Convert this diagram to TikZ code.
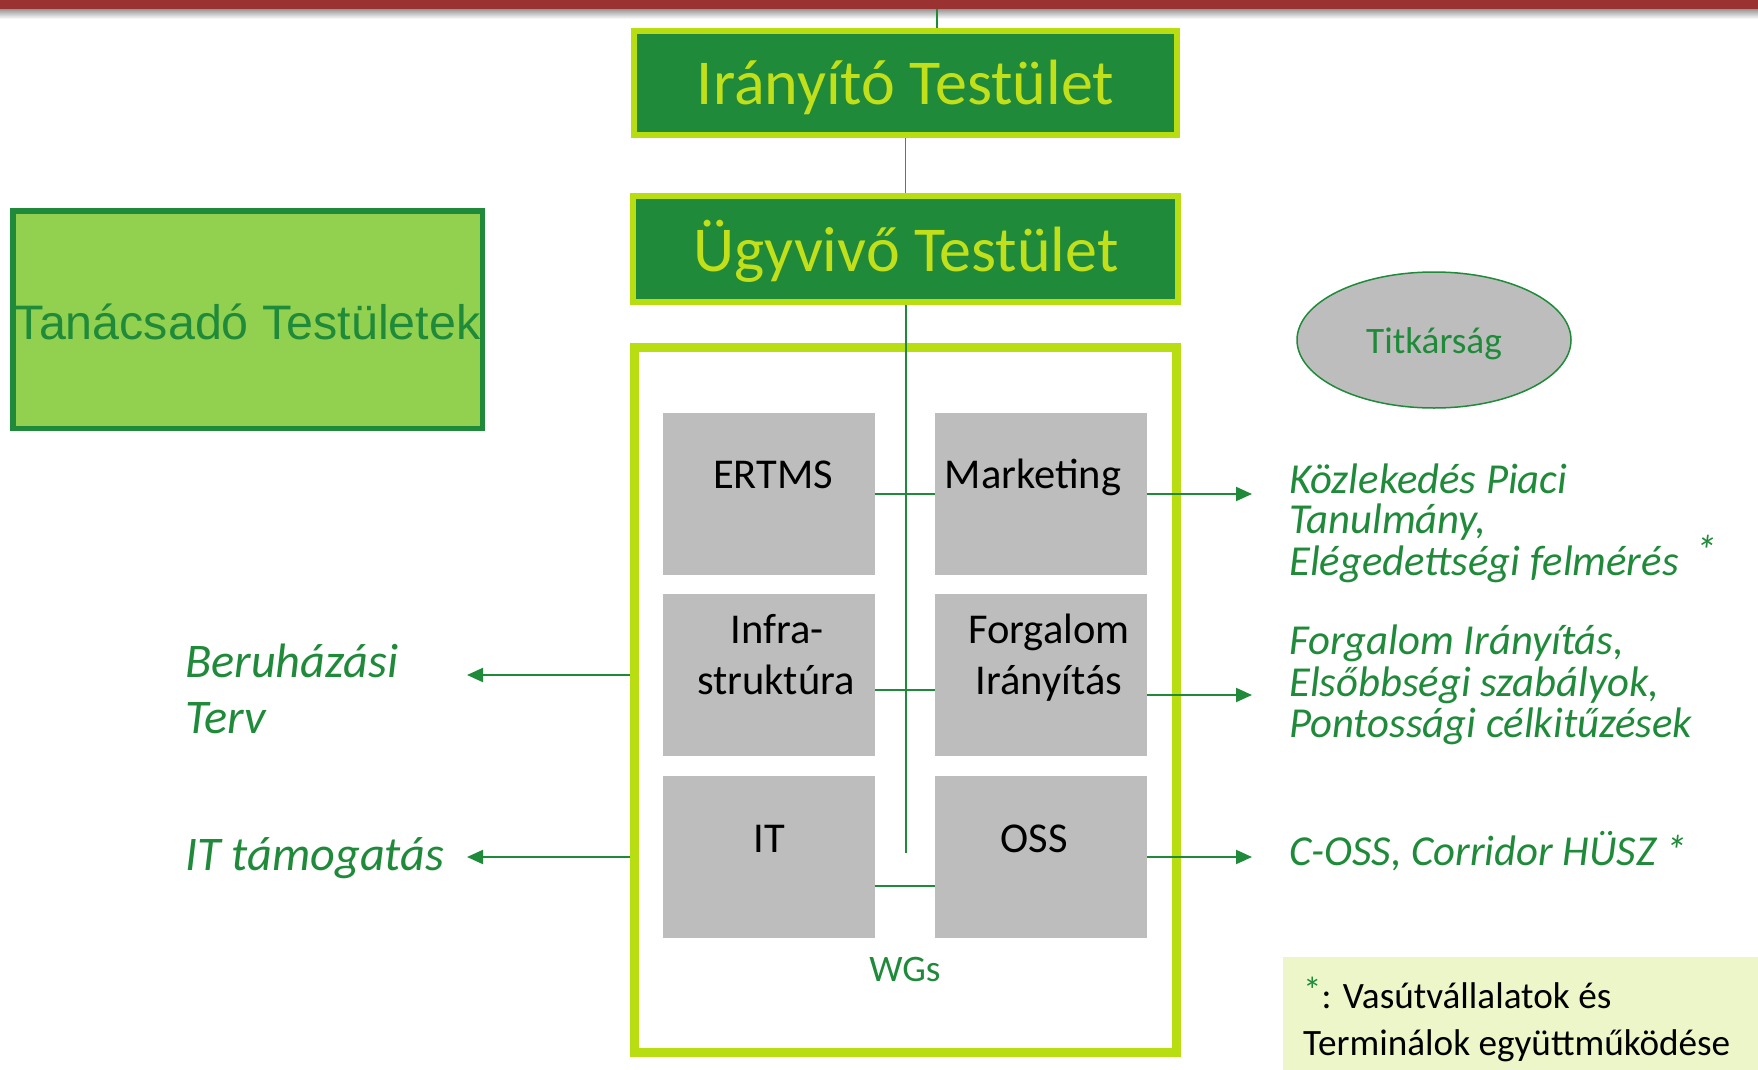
\documentclass[tikz,border=0pt]{standalone}
\usepackage{fontspec}
\setmainfont{Carlito}
\newfontfamily\arialf{Liberation Sans}
\usetikzlibrary{arrows.meta,shapes.geometric}
\definecolor{dkgreen}{HTML}{1F8A3A}
\definecolor{ltgreen}{HTML}{B8DE12}
\definecolor{boxtext}{HTML}{C2E01A}
\definecolor{gbox}{HTML}{BCBDBC}
\definecolor{txtgreen}{HTML}{1F8B3A}
\definecolor{redbar}{HTML}{9B3232}
\definecolor{advfill}{HTML}{92D050}
\definecolor{notefill}{HTML}{ECF6C8}
\definecolor{bluel}{HTML}{4472C4}
\tikzset{
  topbox/.style={draw=ltgreen, fill=dkgreen, line width=6pt, inner sep=0pt},
  wgbox/.style={fill=gbox, draw=none, minimum width=212pt, minimum height=162pt, inner sep=0pt},
  wgtext/.style={anchor=base, inner sep=0pt, font=\fontsize{42.5}{51}\selectfont, text=black},
  gtext/.style={anchor=base west, inner sep=0pt, text=txtgreen, font=\fontsize{42.7}{51}\selectfont\itshape},
  bigg/.style={font=\fontsize{48.3}{58}\selectfont\itshape},
  conn/.style={draw=dkgreen, line width=1.5pt},
  outarrow/.style={draw=dkgreen, line width=2pt, -{Triangle[length=16pt,width=14pt]}},
}
\begin{document}
\begin{tikzpicture}[x=1pt,y=-1pt]
\useasboundingbox (0,0) rectangle (1758,1070);
\fill[white] (0,0) rectangle (1758,1070);
% top bar
\shade[top color=black!45, bottom color=white] (0,8) rectangle (1758,19);
\fill[redbar] (0,0) rectangle (1758,9);
\coordinate (topc) at (937,9);

% governing bodies
\node[topbox, minimum width=543pt, minimum height=104pt] (ir) at (905.5,83) {};
\node[anchor=base, inner sep=0pt, text=boxtext, font=\fontsize{64}{77}\selectfont] (irt) at (905.5,105) {Irányító Testület};
\node[topbox, minimum width=545pt, minimum height=106pt] (ugy) at (905.5,249) {};
\node[anchor=base, inner sep=0pt, text=boxtext, font=\fontsize{64}{77}\selectfont] (ugyt) at (906,271) {Ügyvivő Testület};

% advisory
\node[draw=dkgreen, fill=advfill, line width=5.5pt, minimum width=469.5pt, minimum height=217.5pt, inner sep=0pt] (adv) at (247.5,319.5) {};
\node[anchor=base, inner sep=0pt, text=dkgreen, font=\arialf\fontsize{48.4}{58}\selectfont] (advt) at (247.5,339) {Tanácsadó Testületek};

% secretariat
\node[ellipse, draw=dkgreen, fill=gbox, line width=1.5pt, minimum width=274pt, minimum height=136pt, inner sep=0pt] (tit) at (1434,340) {};
\node[anchor=base, inner sep=0pt, text=txtgreen, font=\fontsize{37.3}{45}\selectfont] (titt) at (1434,353) {Titkárság};

% WG container
\node[draw=ltgreen, line width=9pt, minimum width=542pt, minimum height=705pt, inner sep=0pt] (wg) at (905.5,700) {};
\node[anchor=base, inner sep=0pt, text=txtgreen, font=\fontsize{37.4}{45}\selectfont] (wgt) at (905,981) {WGs};

% working groups
\node[wgbox] (ertms) at (769,494) {};
\node[wgbox] (mkt) at (1041,494) {};
\node[wgbox] (infra) at (769,675) {};
\node[wgbox] (forg) at (1041,675) {};
\node[wgbox] (it) at (769,857) {};
\node[wgbox] (oss) at (1041,857) {};
\node[wgtext] (ertmst) at (773,488) {ERTMS};
\node[wgtext] (mktt) at (1033,488) {Marketing};
\node[wgtext] (infrat1) at (777,643) {Infra-};
\node[wgtext] (infrat2) at (776,694) {struktúra};
\node[wgtext] (forgt1) at (1049,643) {Forgalom};
\node[wgtext] (forgt2) at (1049,694) {Irányítás};
\node[wgtext] (itt) at (769,852) {IT};
\node[wgtext] (osst) at (1034,852) {OSS};

% connectors
\draw[conn] (topc) -- (topc |- ir.north);
\draw[draw=bluel, line width=1.5pt] (ir.south) -- (ugy.north);
\coordinate (trunkend) at (906,853);
\draw[conn] (ugy.south -| trunkend) -- (trunkend);
\draw[conn] (ertms.east) -- (mkt.west);
\draw[conn] ([yshift=-15pt]infra.east) -- ([yshift=-15pt]forg.west);
\draw[conn] ([yshift=-29pt]it.east) -- ([yshift=-29pt]oss.west);

% outputs
\coordinate (la1) at (467,675);
\coordinate (la2) at (467,857);
\coordinate (ra1) at (1252,494);
\coordinate (ra2) at (1252,695);
\coordinate (ra3) at (1252,857);
\draw[outarrow] (wg.west |- la1) -- (la1);
\draw[outarrow] (wg.west |- la2) -- (la2);
\draw[outarrow] (mkt.east) -- (ra1);
\draw[outarrow] (forg.east |- ra2) -- (ra2);
\draw[outarrow] (oss.east) -- (ra3);

\node[gtext, bigg] (beru1) at (185,677) {Beruházási};
\node[gtext, bigg] (beru2) at (185,733) {Terv};
\node[gtext, bigg] (itsup) at (185,870) {IT támogatás};

\node[gtext] (k1) at (1289,493) {Közlekedés Piaci};
\node[gtext] (k2) at (1289,533) {Tanulmány,};
\node[gtext] (k3) at (1289,575) {Elégedettségi felmérés};
\node[gtext] (kstar) at (1695,565) {*};
\node[gtext] (f1) at (1289,654) {Forgalom Irányítás,};
\node[gtext] (f2) at (1289,696) {Elsőbbségi szabályok,};
\node[gtext] (f3) at (1289,737) {Pontossági célkitűzések};
\node[gtext] (c1) at (1289,865) {C-OSS, Corridor HÜSZ *};

% footnote
\node[fill=notefill, draw=none, minimum width=475pt, minimum height=113pt, inner sep=0pt, anchor=north west] (note) at (1283,957) {};
\node[anchor=base west, inner sep=0pt, font=\fontsize{37.2}{45}\selectfont] (n1) at (1303,1008) {\textcolor{txtgreen}{\raisebox{0.12em}{*}}: Vasútvállalatok és};
\node[anchor=base west, inner sep=0pt, font=\fontsize{37.2}{45}\selectfont] (n2) at (1303,1055) {Terminálok együttműködése};
\end{tikzpicture}
\end{document}
